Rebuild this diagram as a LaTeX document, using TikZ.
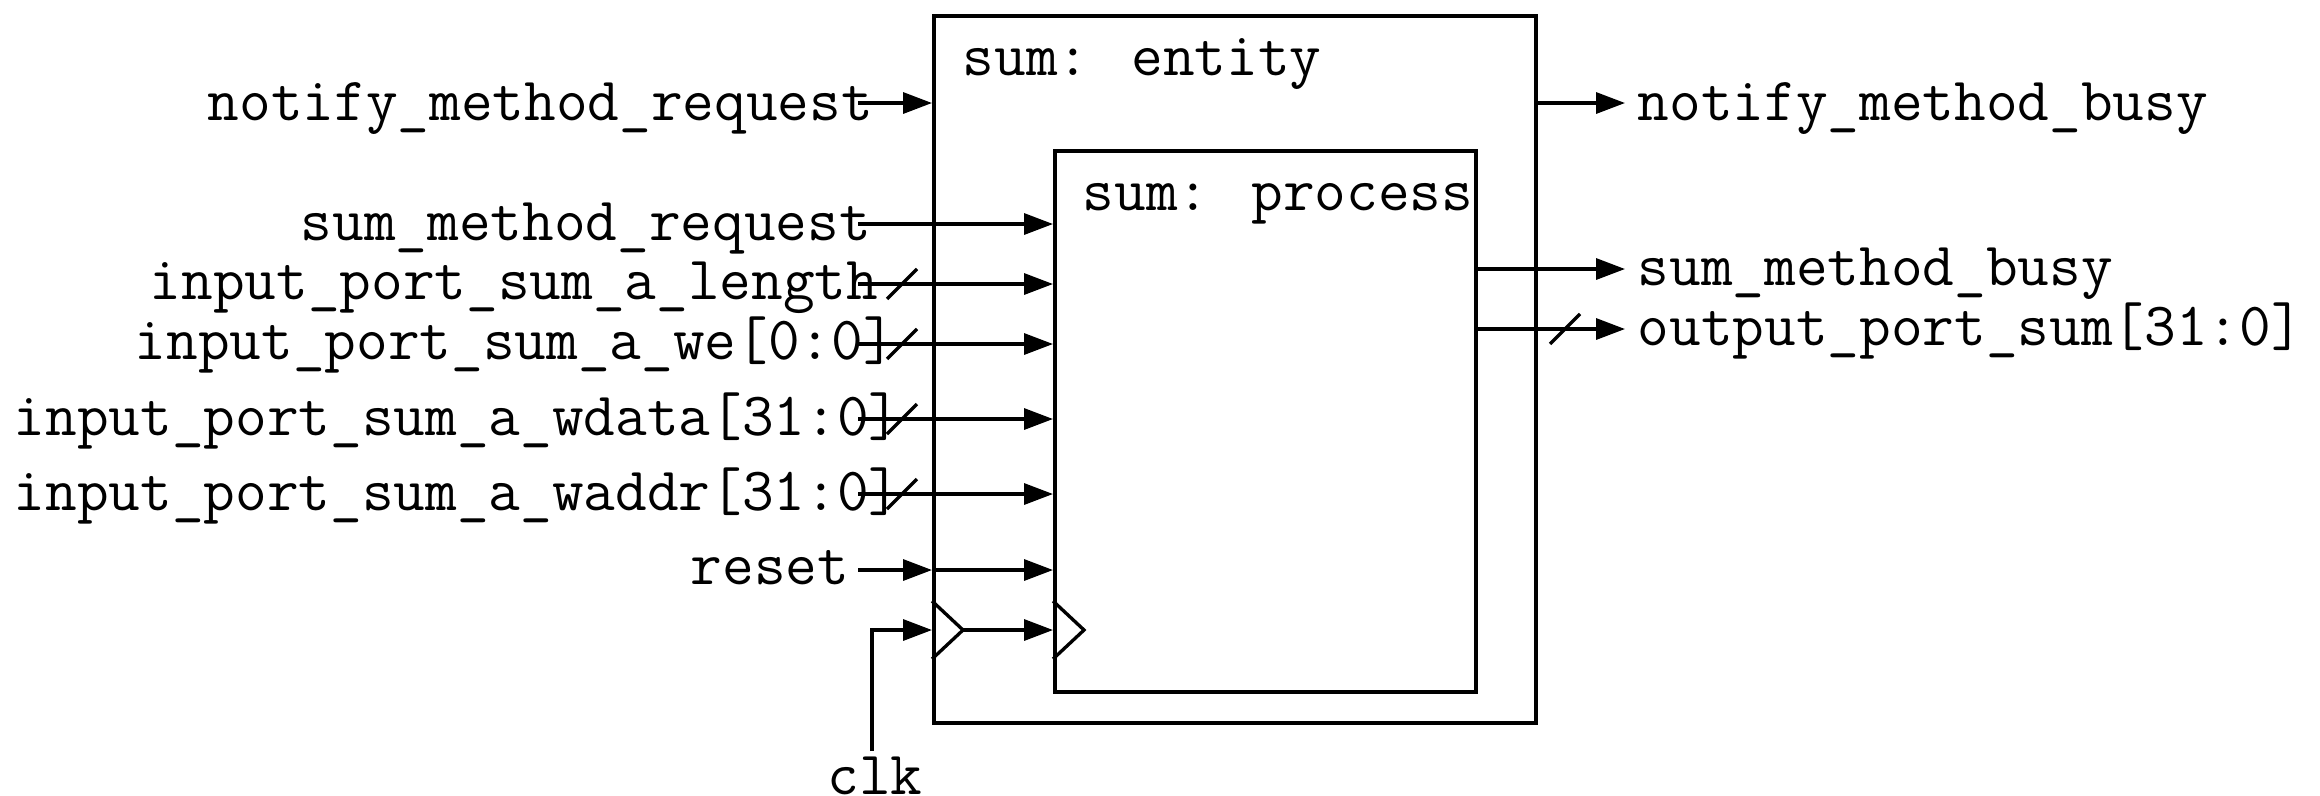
\documentclass[tikz,border=0pt]{standalone}
\usepackage{fontspec}
\usetikzlibrary{arrows.meta}

\tikzset{
  sig/.style={font=\ttfamily\fontsize{17.5}{20}\selectfont, inner sep=0pt, anchor=base west},
  blk/.style={draw, line width=1.1pt, inner sep=0pt, anchor=north west},
  wire/.style={line width=0.95pt, -{Triangle[length=2.9mm,width=2.1mm]}},
  bus/.style={line width=0.95pt},
}

\begin{document}
\begin{tikzpicture}[x=0.1mm, y=-0.1mm]
  \useasboundingbox (0,0) rectangle (2320,795);

  % entity and the process inside it
  \node (entity) [blk, minimum width=60.2mm, minimum height=70.7mm] at (932,14) {};
  \node (proc)   [blk, minimum width=42.1mm, minimum height=54.1mm] at (1053,149) {};
  \node (entityname) [sig] at (962,75)  {sum: entity};
  \node (procname)   [sig] at (1082,210) {sum: process};

  % inputs
  \node (nreq)  [sig] at (207,120) {notify\_method\_request};
  \node (sreq)  [sig] at (300,240) {sum\_method\_request};
  \node (alen)  [sig] at (149,299) {input\_port\_sum\_a\_length};
  \node (awe)   [sig] at (134,359) {input\_port\_sum\_a\_we[0:0]};
  \node (adata) [sig] at (13,435)  {input\_port\_sum\_a\_wdata[31:0]};
  \node (aaddr) [sig] at (13,510)  {input\_port\_sum\_a\_waddr[31:0]};
  \node (rst)   [sig] at (690,584) {reset};
  \node (clk)   [sig, anchor=base] at (875,794) {clk};

  \coordinate (nreqin)  at (858,103);
  \coordinate (sreqin)  at (858,224);
  \coordinate (alenin)  at (858,284);
  \coordinate (awein)   at (858,344);
  \coordinate (adatain) at (858,419);
  \coordinate (aaddrin) at (858,494);
  \coordinate (rstin)   at (858,570);
  \coordinate (clkin)   at (872,751);
  \coordinate (eclk)    at (932,630);
  \coordinate (pclk)    at (1053,630);

  \draw[wire] (nreqin) -- (nreqin -| entity.west);
  \draw[wire] (sreqin) -- (sreqin -| proc.west);
  \draw[wire] (alenin) -- (alenin -| proc.west);
  \draw[wire] (awein) -- (awein -| proc.west);
  \draw[wire] (adatain) -- (adatain -| proc.west);
  \draw[wire] (aaddrin) -- (aaddrin -| proc.west);
  \draw[wire] (rstin) -- (rstin -| entity.west);
  \draw[wire] (rstin -| entity.west) -- (rstin -| proc.west);
  \draw[wire] (clkin) |- (eclk);
  \draw[wire] ([xshift=3.1mm]eclk) -- (pclk);

  % clock marks
  \draw[bus] (eclk) ++(0,-29) -- ++(31,29) -- ++(-31,29);
  \draw[bus] (pclk) ++(0,-29) -- ++(31,29) -- ++(-31,29);

  % bus slashes
  \draw[bus] (902,284) ++(-15,15) -- ++(30,-30);
  \draw[bus] (902,344) ++(-15,15) -- ++(30,-30);
  \draw[bus] (902,419) ++(-15,15) -- ++(30,-30);
  \draw[bus] (902,494) ++(-15,15) -- ++(30,-30);
  \draw[bus] (1565,329) ++(-15,15) -- ++(30,-30);

  % outputs
  \node (nbusy) [sig] at (1637,120) {notify\_method\_busy};
  \node (sbusy) [sig] at (1637,285) {sum\_method\_busy};
  \node (osum)  [sig] at (1637,345) {output\_port\_sum[31:0]};

  \coordinate (nbusyout) at (1625,103);
  \coordinate (sbusyout) at (1625,269);
  \coordinate (osumout)  at (1625,329);

  \draw[wire] (nbusyout -| entity.east) -- (nbusyout);
  \draw[wire] (sbusyout -| proc.east) -- (sbusyout);
  \draw[wire] (osumout -| proc.east) -- (osumout);
\end{tikzpicture}
\end{document}
